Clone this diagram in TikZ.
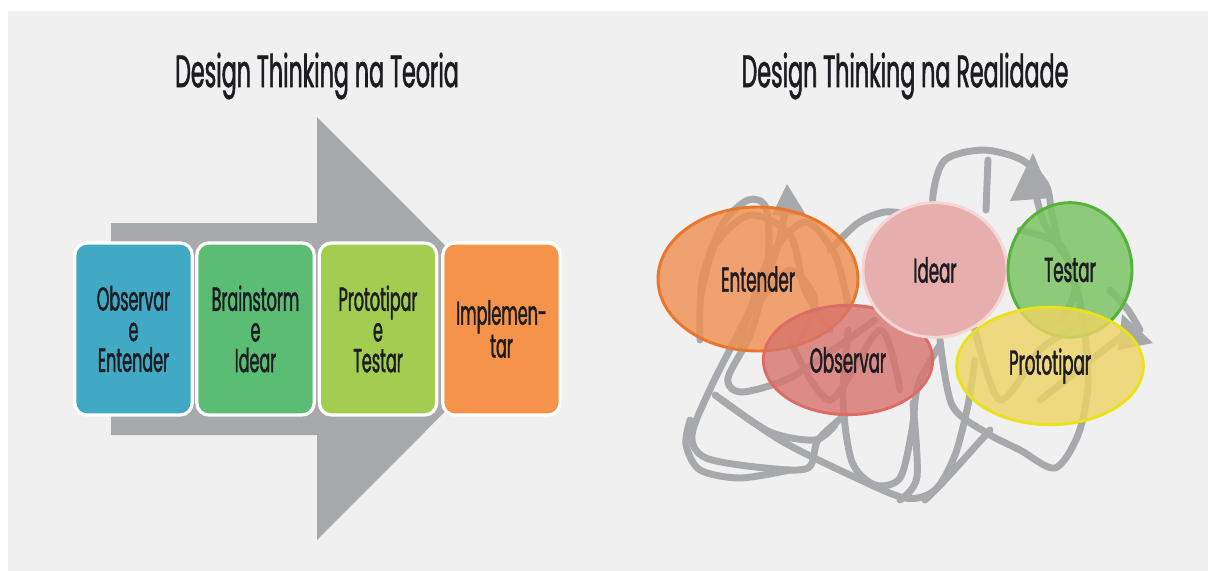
\documentclass[tikz,border=0pt]{standalone}
\usepackage{fontspec}
\setmainfont{Poppins}
\newfontfamily\titlefont[FakeStretch=0.49, FakeBold=1.2]{Poppins}
\newfontfamily\boxfont[FakeStretch=0.48, FakeBold=1.2]{Poppins}
\usetikzlibrary{shapes.geometric}
\definecolor{bgc}{HTML}{F0F0F0}
\definecolor{arrowgray}{HTML}{A7A9AC}
\definecolor{txt}{HTML}{1C1C22}
\definecolor{cblue}{HTML}{41A9C4}
\definecolor{cgreen}{HTML}{5BBD74}
\definecolor{clime}{HTML}{A3CD50}
\definecolor{corange}{HTML}{F6934B}
\definecolor{entfill}{HTML}{F08E50}
\definecolor{entdraw}{HTML}{E8762C}
\definecolor{obsfill}{HTML}{D8746C}
\definecolor{obsdraw}{HTML}{DD6C66}
\definecolor{idfill}{HTML}{E6AEAC}
\definecolor{iddraw}{HTML}{F4D6D5}
\definecolor{tesfill}{HTML}{7CC566}
\definecolor{tesdraw}{HTML}{56B33A}
\definecolor{profill}{HTML}{EED464}
\definecolor{prodraw}{HTML}{E8E31C}
\tikzset{
  stepbox/.style={draw=white, line width=2.4pt, rounded corners=9pt, minimum width=88pt, minimum height=129pt, inner sep=0pt, align=center, text=txt, font=\boxfont\fontsize{25}{23}\selectfont},
  title/.style={text=txt, font=\titlefont\fontsize{34}{36}\selectfont},
  scrib/.style={draw=arrowgray, line width=5.2pt, line cap=round, line join=round},
  blob/.style={ellipse, inner sep=0pt, line width=2.2pt, text=txt, text opacity=1, font=\boxfont\fontsize{26}{20}\selectfont},
}
\begin{document}
\begin{tikzpicture}[x=0.75pt,y=-0.75pt]
\useasboundingbox (0,0) rectangle (1208,571);
\fill[white] (0,0) rectangle (1208,571);
\fill[bgc] (8,11) rectangle (1208,571);

% titles
\node[title] (t1) at (317,76) {Design Thinking na Teoria};
\node[title] (t2) at (905,76) {Design Thinking na Realidade};

% big arrow
\fill[arrowgray] (111,223) -- (317,223) -- (317,117) -- (528,328.5) -- (317,540) -- (317,435) -- (111,435) -- cycle;

% step boxes
\node[stepbox, fill=cblue] (b1) at (133.5,329) {Observar\\e\\Entender};
\node[stepbox, fill=cgreen] (b2) at (255.5,329) {Brainstorm\\e\\Idear};
\node[stepbox, fill=clime] (b3) at (378,329) {Prototipar\\e\\Testar};
\node[stepbox, fill=corange] (b4) at (501.5,329) {Implemen-\\tar};

% scribbles
\draw[scrib] plot[smooth] coordinates {(787,200) (775,255) (745,320) (712,385) (692,435) (706,458) (765,468) (808,468) (818,440) (845,415)};
\draw[scrib] plot[smooth] coordinates {(700,340) (702,280) (722,225) (748,200) (766,208) (768,260) (752,330) (728,378) (742,392) (790,378) (840,345) (875,320)};
\draw[scrib] plot[smooth] coordinates {(722,400) (770,432) (815,440) (835,425)};
\draw[scrib] plot[smooth] coordinates {(715,395) (780,440) (850,475) (905,498) (935,490) (955,455) (968,405) (975,360)};
\draw[scrib] plot[smooth] coordinates {(848,330) (843,400) (852,462) (875,485) (900,478) (912,430) (918,385) (940,345)};
\draw[scrib] plot[smooth] coordinates {(940,340) (952,405) (985,432) (1020,450) (1055,468) (1078,435) (1088,385) (1083,320) (1070,265) (1045,225) (1036,195)};
\draw[scrib] plot[smooth] coordinates {(935,240) (933,195) (945,160) (983,150) (1022,160) (1046,185) (1052,215) (1060,250)};
\draw[scrib] plot[smooth] coordinates {(988,160) (986,210)};
\draw[scrib] plot[smooth] coordinates {(700,300) (715,245) (750,215) (790,235) (805,290) (830,330)};
\draw[scrib] plot[smooth] coordinates {(740,345) (768,260) (805,222) (835,255) (848,305)};
\draw[scrib] plot[smooth] coordinates {(760,300) (790,270) (815,300) (800,340)};
\draw[scrib] plot[smooth] coordinates {(830,250) (858,223) (885,212) (915,215)};
\draw[scrib] plot[smooth] coordinates {(1040,400) (1085,365) (1120,338) (1135,335)};
\draw[scrib] plot[smooth] coordinates {(1110,290) (1128,310) (1140,330)};
\draw[scrib] plot[smooth] coordinates {(990,430) (945,480) (925,500)};
\draw[scrib] plot[smooth] coordinates {(913,403) (917,477) (900,500)};
\draw[scrib] plot[smooth] coordinates {(975,330) (1000,400) (1040,350) (1070,330)};
\draw[scrib] plot[smooth] coordinates {(790,340) (830,400) (880,330) (900,390)};
\draw[scrib] plot[smooth] coordinates {(1020,230) (1060,245) (1075,290) (1060,320)};
\draw[scrib] plot[smooth] coordinates {(690,420) (686,445) (700,470) (740,478) (790,470)};
% arrowheads
\fill[arrowgray] (787,184) -- (806,215) -- (772,215) -- cycle;
\fill[arrowgray] (1033,153) -- (1052,198) -- (1010,201) -- cycle;
\fill[arrowgray] (1153,343) -- (1118,350) -- (1122,314) -- cycle;

% ellipses
\node[blob, fill=entfill, fill opacity=0.8, draw=entdraw, minimum width=150pt, minimum height=108pt] (ent) at (758,279) {Entender};
\node[blob, fill=obsfill, fill opacity=0.8, draw=obsdraw, minimum width=127pt, minimum height=82pt] (obs) at (848,360) {Observar};
\node[blob, fill=idfill, draw=iddraw, minimum width=108pt, minimum height=101pt] (ide) at (935,270) {Idear};
\node[blob, fill=tesfill, fill opacity=0.85, draw=tesdraw, minimum width=93pt, minimum height=101pt] (tes) at (1070,270) {Testar};
\node[blob, fill=profill, fill opacity=0.8, draw=prodraw, minimum width=140pt, minimum height=88pt] (pro) at (1050,366) {Prototipar};
\end{tikzpicture}
\end{document}
